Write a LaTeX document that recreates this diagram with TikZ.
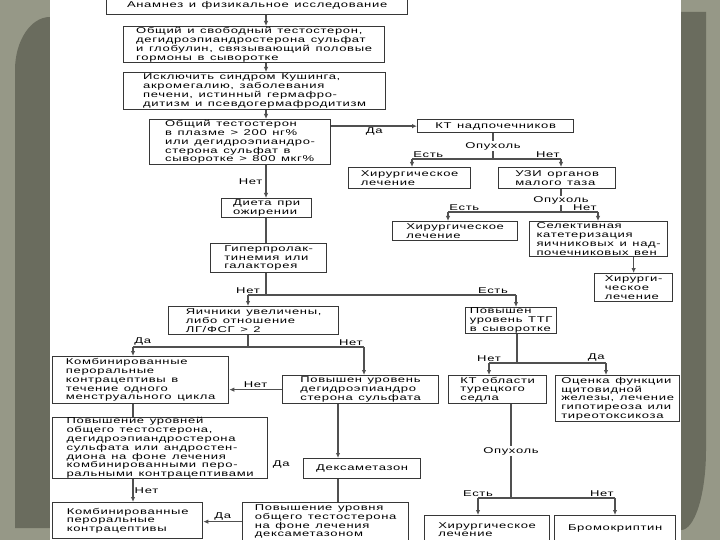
\documentclass[tikz,border=0pt]{standalone}
\usepackage{fontspec}
\newfontfamily\flowfont{Liberation Sans}[FakeStretch=1.55,LetterSpace=8,WordSpace=1.3]
\usetikzlibrary{arrows.meta}

\definecolor{frameLight}{RGB}{150,152,135}
\definecolor{frameDark}{RGB}{106,108,94}
\definecolor{boxLine}{RGB}{55,55,55}
\definecolor{wireGray}{RGB}{80,80,80}

\tikzset{every picture/.style={line width=0.75pt},
  blk/.style={draw=boxLine, line width=1.3pt, fill=white, anchor=north west, align=left,
    inner xsep=0pt, inner ysep=0pt, font=\flowfont\fontsize{8.4}{8.8}\selectfont},
  ln/.style={draw=wireGray, line width=1.4pt},
  arr/.style={ln, -{Latex[length=5pt,width=4.5pt]}},
  lbl/.style={inner sep=1pt, font=\flowfont\fontsize{8.4}{8.8}\selectfont}
}

\begin{document}
\begin{tikzpicture}[x=1pt, y=-1pt]
        \clip (0,0) rectangle (720,540);
        % slide frame
        \fill[frameLight] (0,0) rectangle (720,540);
        \fill[frameDark] (15,528) -- (15,70) arc[start angle=180, end angle=270, x radius=35, y radius=53] -- (50,528) -- cycle;
        \fill[frameDark] (681,12) -- (706,12) -- (706,450) arc[start angle=0, end angle=90, x radius=25, y radius=80] -- cycle;
        \fill[white] (50,0) rectangle (681,540);

        % left column
        \node[blk, align=center, minimum width=301pt, minimum height=18pt] (anam) at (106,-4) {Анамнез и физикальное исследование};
        \node[blk, minimum width=261pt, minimum height=36pt] (obsh) at (123,26) {Общий и свободный тестостерон,\\дегидроэпиандростерона сульфат\\и глобулин, связывающий половые\\гормоны в сыворотке};
        \node[blk, minimum width=262pt, minimum height=37pt] (iskl) at (123,72) {Исключить синдром Кушинга,\\акромегалию, заболевания\\печени, истинный гермафро-\\дитизм и псевдогермафродитизм};
        \node[blk, minimum width=181pt, minimum height=45pt] (testo) at (149,119) {Общий тестостерон\\в плазме > 200 нг\%\\или дегидроэпиандро-\\стерона сульфат в\\сыворотке > 800 мкг\%};
        \node[blk, minimum width=90pt, minimum height=19pt] (dieta) at (221,198) {Диета при\\ожирении};
        \node[blk, minimum width=116pt, minimum height=29pt] (giper) at (210,243) {Гиперпролак-\\тинемия или\\галакторея};
        \node[blk, minimum width=170pt, minimum height=28pt] (yaich) at (168,306) {Яичники увеличены,\\либо отношение\\ЛГ/ФСГ > 2};
        \node[blk, minimum width=176pt, minimum height=47pt] (komb1) at (52,356) {Комбинированные\\пероральные\\контрацептивы в\\течение одного\\менструального цикла};
        \node[blk, minimum width=156pt, minimum height=28pt] (povd) at (282,375) {Повышен уровень\\дегидроэпиандро\\стерона сульфата};
        \node[blk, minimum width=215pt, minimum height=61pt] (povob) at (52,417) {Повышение уровней\\общего тестостерона,\\дегидроэпиандростерона\\сульфата или андростен-\\диона на фоне лечения\\комбинированными перо-\\ральными контрацептивами};
        \node[blk, minimum width=117pt, minimum height=20pt] (deksa) at (303,458) {Дексаметазон};
        \node[blk, minimum width=150pt, minimum height=36pt] (komb2) at (52,502) {Комбинированные\\пероральные\\контрацептивы};
        \node[blk, minimum width=166pt, minimum height=38pt] (povdeks) at (242,502) {Повышение уровня\\общего тестостерона\\на фоне лечения\\дексаметазоном};

        % right part
        \node[blk, align=center, minimum width=156pt, minimum height=13pt] (ktnad) at (417,119) {КТ надпочечников};
        \node[blk, minimum width=122pt, minimum height=21pt] (hir1) at (348,167) {Хирургическое\\лечение};
        \node[blk, minimum width=117pt, minimum height=21pt] (uzi) at (498,167) {УЗИ органов\\малого таза};
        \node[blk, minimum width=125pt, minimum height=19pt] (hir2) at (392,221) {Хирургическое\\лечение};
        \node[blk, minimum width=138pt, minimum height=35pt] (selek) at (529,221) {Селективная\\катетеризация\\яичниковых и над-\\почечниковых вен};
        \node[blk, minimum width=78pt, minimum height=28pt] (hir3) at (594,273) {Хирурги-\\ческое\\лечение};
        \node[blk, minimum width=91pt, minimum height=26pt] (ttg) at (465,307) {Повышен\\уровень ТТГ\\в сыворотке};
        \node[blk, minimum width=98pt, minimum height=28pt] (ktsed) at (448,375) {КТ области\\турецкого\\седла};
        \node[blk, minimum width=124pt, minimum height=46pt] (otsen) at (555,375) {Оценка функции\\щитовидной\\железы, лечение\\гипотиреоза или\\тиреотоксикоза};
        \node[blk, minimum width=125pt, minimum height=28pt] (hir4) at (424,515) {Хирургическое\\лечение};
        \node[blk, align=center, minimum width=121pt, minimum height=26pt] (brom) at (554,515) {Бромокриптин};

        % branch points
        \coordinate (sp) at (266,0);
        \coordinate (j1) at (493,159);
        \coordinate (a1) at (412,159);
        \coordinate (a2) at (561,159);
        \coordinate (j2) at (561,212);
        \coordinate (a3) at (448,212);
        \coordinate (a4) at (598,212);
        \coordinate (j3) at (266,295);
        \coordinate (a5) at (248,295);
        \coordinate (a6) at (516,295);
        \coordinate (j4) at (248,347);
        \coordinate (a8) at (133,347);
        \coordinate (a9) at (364,347);
        \coordinate (c1) at (338,0);
        \coordinate (j5) at (517,363);
        \coordinate (a10) at (489,363);
        \coordinate (a11) at (606,363);
        \coordinate (j6) at (511,498);
        \coordinate (a12) at (478,498);
        \coordinate (a13) at (615,498);

        % main spine
        \draw[arr] (anam.south -| sp) -- (obsh.north -| sp);
        \draw[arr] (obsh.south -| sp) -- (iskl.north -| sp);
        \draw[arr] (iskl.south -| sp) -- (testo.north -| sp);
        \draw[arr] (testo.south -| sp) -- node[lbl, left, xshift=-2pt] {Нет} (dieta.north -| sp);
        \draw[ln] (dieta.south -| sp) -- (giper.north -| sp);
        \draw[ln] (giper.south -| sp) -- (j3);
        \draw[ln] (a5) -- (a6);
        \draw[arr] (a5) -- (a5 |- yaich.north);
        \draw[arr] (a6) -- (a6 |- ttg.north);
        \node[lbl, above] at (a5) {Нет};
        \node[lbl, above] at (493,295) {Есть};

        % adrenal branch
        \draw[arr] (testo.east |- ktnad.west) -- node[lbl, below] {Да} (ktnad.west);
        \draw[ln] (ktnad.south -| j1) -- node[lbl, fill=white] {Опухоль} (j1);
        \draw[ln] (a1) -- (a2);
        \draw[arr] (a1) -- (a1 |- hir1.north);
        \draw[arr] (a2) -- (a2 |- uzi.north);
        \node[lbl, above right] at (a1) {Есть};
        \node[lbl, above left] at (a2) {Нет};
        \draw[ln] (uzi.south -| j2) -- node[lbl, fill=white] {Опухоль} (j2);
        \draw[ln] (a3) -- (a4);
        \draw[arr] (a3) -- (a3 |- hir2.north);
        \draw[arr] (a4) -- (a4 |- selek.north);
        \node[lbl, above right] at (a3) {Есть};
        \node[lbl, above left] at (a4) {Нет};
        \draw[arr] (selek.south -| hir3.north) -- (hir3.north);

        % ovaries branch
        \draw[ln] (yaich.south -| j4) -- (j4);
        \draw[ln] (a8) -- (a9);
        \draw[arr] (a8) -- (a8 |- komb1.north);
        \draw[arr] (a9) -- (a9 |- povd.north);
        \node[lbl, above right] at (a8) {Да};
        \node[lbl, above left] at (a9) {Нет};
        \draw[arr] (povd.west) -- node[lbl, above] {Нет} (komb1.east |- povd.west);
        \draw[ln] (komb1.south -| a8) -- (povob.north -| a8);
        \draw[arr] (povob.south -| a8) -- node[lbl, right] {Нет} (komb2.north -| a8);
        \draw[arr] (povd.south -| c1) -- (deksa.north -| c1);
        \node[lbl, anchor=east] at ([xshift=-12pt, yshift=4pt]deksa.west) {Да};
        \draw[ln] (deksa.south -| c1) -- (povdeks.north -| c1);
        \draw[arr] (povdeks.west) -- node[lbl, above] {Да} (komb2.east |- povdeks.west);

        % TSH branch
        \draw[ln] (ttg.south -| j5) -- (j5);
        \draw[ln] (a10) -- (a11);
        \draw[arr] (a10) -- (a10 |- ktsed.north);
        \draw[arr] (a11) -- (a11 |- otsen.north);
        \node[lbl, above] at (a10) {Нет};
        \node[lbl, above left] at (a11) {Да};
        \draw[ln] (ktsed.south -| j6) -- node[lbl, fill=white] {Опухоль} (j6);
        \draw[ln] (a12) -- (a13);
        \draw[arr] (a12) -- (a12 |- hir4.north);
        \draw[arr] (a13) -- (a13 |- brom.north);
        \node[lbl, above] at (a12) {Есть};
        \node[lbl, above left] at (a13) {Нет};
    \end{tikzpicture}
\end{document}
